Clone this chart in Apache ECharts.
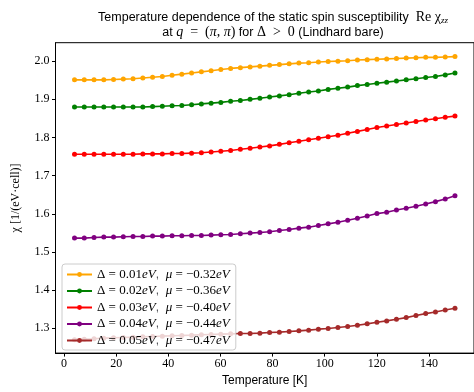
<!DOCTYPE html>
<html><head><meta charset="utf-8">
<script src="https://cdn.jsdelivr.net/npm/echarts@6/dist/echarts.min.js"></script>
<style>html,body{margin:0;padding:0;background:#fff}#c{width:474px;height:392px}</style>
</head><body><div id="c"></div>
<script>
const temperatures = [4, 7.74, 11.49, 15.23, 18.97, 22.72, 26.46, 30.21, 33.95, 37.69, 41.44, 45.18, 48.92, 52.67, 56.41, 60.15, 63.9, 67.64, 71.38, 75.13, 78.87, 82.62, 86.36, 90.1, 93.85, 97.59, 101.33, 105.08, 108.82, 112.56, 116.31, 120.05, 123.79, 127.54, 131.28, 135.03, 138.77, 142.51, 146.26, 150];
const chiD01 = [1.951,1.951,1.951,1.951,1.952,1.953,1.954,1.956,1.958,1.960,1.963,1.966,1.969,1.972,1.975,1.978,1.981,1.983,1.985,1.987,1.989,1.991,1.993,1.995,1.996,1.998,1.999,2.000,2.001,2.003,2.004,2.005,2.006,2.007,2.008,2.009,2.010,2.010,2.011,2.012];
const chiD02 = [1.880,1.880,1.880,1.880,1.880,1.880,1.880,1.880,1.881,1.882,1.883,1.884,1.886,1.888,1.890,1.892,1.895,1.897,1.900,1.903,1.906,1.909,1.912,1.916,1.919,1.922,1.926,1.929,1.932,1.936,1.939,1.942,1.945,1.948,1.951,1.954,1.957,1.960,1.964,1.969];
const chiD03 = [1.756,1.756,1.756,1.756,1.756,1.756,1.756,1.757,1.757,1.757,1.758,1.758,1.759,1.760,1.762,1.764,1.766,1.769,1.772,1.775,1.778,1.782,1.786,1.790,1.794,1.798,1.802,1.806,1.811,1.816,1.821,1.826,1.830,1.834,1.838,1.842,1.846,1.849,1.853,1.856];
const chiD04 = [1.5364,1.5364,1.5381,1.5390,1.5390,1.5399,1.5407,1.5407,1.5416,1.5416,1.5425,1.5425,1.5433,1.5433,1.5442,1.5451,1.5459,1.5477,1.5494,1.5511,1.5529,1.5563,1.5590,1.5624,1.5650,1.5694,1.5737,1.5781,1.5833,1.5885,1.5945,1.6006,1.6041,1.6102,1.6145,1.6197,1.6258,1.6319,1.6388,1.6475];
const chiD05 = [1.2699,1.2716,1.2725,1.2742,1.2751,1.2760,1.2768,1.2777,1.2786,1.2794,1.2803,1.2812,1.2820,1.2829,1.2838,1.2846,1.2855,1.2864,1.2864,1.2873,1.2890,1.2899,1.2916,1.2933,1.2951,1.2977,1.2994,1.3020,1.3046,1.3081,1.3116,1.3159,1.3194,1.3237,1.3280,1.3333,1.3385,1.3428,1.3480,1.3524];
const seriesNames = ['d1','d2','d3','d4','d5'];
const legendLabels = {
  d1: '{r|Δ = 0.01}{i|eV},  {i|μ}{r| = −0.32}{i|eV}',
  d2: '{r|Δ = 0.02}{i|eV},  {i|μ}{r| = −0.36}{i|eV}',
  d3: '{r|Δ = 0.03}{i|eV},  {i|μ}{r| = −0.40}{i|eV}',
  d4: '{r|Δ = 0.04}{i|eV},  {i|μ}{r| = −0.44}{i|eV}',
  d5: '{r|Δ = 0.05}{i|eV},  {i|μ}{r| = −0.47}{i|eV}'
};
const seriesColors = ['#FFA500','#008000','#FF0000','#800080','#A52A2A'];
const xTicks = [0,20,40,60,80,100,120,140];
const yTicks = [1.3,1.4,1.5,1.6,1.7,1.8,1.9,2.0];

const allData = [chiD01, chiD02, chiD03, chiD04, chiD05];
const chart = echarts.init(document.getElementById('c'), null, {renderer:'canvas'});
const serif = 'Liberation Serif';
const sans = 'Liberation Sans';
chart.setOption({
  animation: false,
  backgroundColor: '#fff',
  title: {
    left: 268, top: 5, textAlign: 'center',
    text: '{s|Temperature dependence of the static spin susceptibility  }{m|Re }{m|χ}{sub|zz}\n{s|at }{mi|q}{m|\u2002=\u2002(}{mi|π}{m|, }{mi|π}{m|)}{s| for }{m|Δ\u2002>\u20020}{s| (Lindhard bare)}',
    textStyle: {
      fontWeight: 'normal',
      rich: {
        s: {fontFamily: sans, fontSize: 12.5, fontWeight: 'normal', color: '#000', lineHeight: 15},
        m: {fontFamily: serif, fontSize: 14, fontWeight: 'normal', color: '#000', lineHeight: 15},
        mi: {fontFamily: serif, fontStyle: 'italic', fontWeight: 'normal', fontSize: 14, color: '#000', lineHeight: 15},
        sub: {fontFamily: serif, fontStyle: 'italic', fontWeight: 'normal', fontSize: 9, color: '#000', lineHeight: 15, verticalAlign: 'bottom'}
      }
    }
  },
  grid: {left: 55.5, top: 42.7, width: 420, height: 312.3, show: true, borderColor: '#000', borderWidth: 1, backgroundColor: 'transparent', containLabel: false},
  legend: {
    data: seriesNames,
    z: 20,
    orient: 'vertical', left: 62, top: 264,
    itemWidth: 25, itemHeight: 6, itemGap: 3.5,
    backgroundColor: 'rgba(255,255,255,0.8)', borderColor: '#cccccc', borderWidth: 1, borderRadius: 3,
    padding: [4, 6, 3, 4],
    formatter: n => legendLabels[n],
    textStyle: {
      rich: {
        r: {fontFamily: serif, fontSize: 13, color: '#000'},
        i: {fontFamily: serif, fontStyle: 'italic', fontSize: 13, color: '#000'}
      }
    }
  },
  xAxis: {
    type: 'value', min: -3.3, max: 157.3,
    name: 'Temperature [K]', nameLocation: 'middle', nameGap: 19,
    nameTextStyle: {fontFamily: sans, fontSize: 12, color: '#000'},
    axisLine: {show: true, onZero: false, lineStyle: {color: '#000', width: 1}},
    axisTick: {show: true, length: 3.5, lineStyle: {color: '#000'}, customValues: xTicks},
    axisLabel: {fontFamily: serif, fontSize: 12, color: '#000', margin: 5, customValues: xTicks, formatter: v => String(v)},
    splitLine: {show: false}
  },
  yAxis: {
    type: 'value', min: 1.235, max: 2.0484,
    name: 'χ [1/(eV·cell)]', nameLocation: 'middle', nameGap: 34, nameRotate: 90,
    nameTextStyle: {fontFamily: serif, fontSize: 12, color: '#000'},
    axisLine: {show: true, onZero: false, lineStyle: {color: '#000', width: 1}},
    axisTick: {show: true, length: 3.5, lineStyle: {color: '#000'}, customValues: yTicks},
    axisLabel: {fontFamily: serif, fontSize: 12, color: '#000', margin: 6, customValues: yTicks, formatter: v => v.toFixed(1)},
    splitLine: {show: false}
  },
  series: seriesNames.map((n, i) => ({
    name: n, type: 'line',
    data: temperatures.map((t, j) => [t, allData[i][j]]),
    symbol: 'circle', symbolSize: 5, showSymbol: true,
    itemStyle: {color: seriesColors[i]},
    lineStyle: {color: seriesColors[i], width: 1.6},
    z: 2
  }))
});
</script></body></html>
